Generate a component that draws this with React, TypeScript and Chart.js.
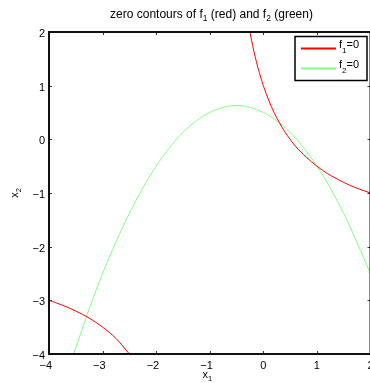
import React, { useEffect, useRef } from 'react';
import { Chart, registerables } from 'chart.js';

Chart.register(...registerables);

const xTicks = [-4, -3, -2, -1, 0, 1, 2];
const yTicks = [-4, -3, -2, -1, 0, 1, 2];

// f1 = 0 (red), upper-right branch
const redUpperX = [-0.25, -0.2, -0.15, -0.1, -0.05, 0, 0.1, 0.2, 0.3, 0.4, 0.5, 0.6, 0.8, 1.0, 1.2, 1.4, 1.6, 1.8, 2.0];
const redUpperY = [2.0, 1.75, 1.53, 1.33, 1.16, 1.0, 0.73, 0.5, 0.31, 0.14, 0.0, -0.13, -0.33, -0.5, -0.64, -0.75, -0.85, -0.93, -1.0];
// f1 = 0 (red), lower-left branch
const redLowerX = [-4, -3.75, -3.5, -3.25, -3, -2.75, -2.5];
const redLowerY = [-3, -3.09, -3.2, -3.33, -3.5, -3.71, -4.0];
// f2 = 0 (green)
const greenX = [-3.54, -3.25, -3, -2.5, -2, -1.5, -1, -0.5, 0, 0.5, 1, 1.5, 2];
const greenY = [-4, -3.16, -2.5, -1.38, -0.5, 0.13, 0.5, 0.63, 0.5, 0.13, -0.5, -1.38, -2.5];

type Part = [string, boolean];
const titleParts: Part[] = [['zero contours of f', false], ['1', true], [' (red) and f', false], ['2', true], [' (green)', false]];
const xLabelParts: Part[] = [['x', false], ['1', true]];
const yLabelParts: Part[] = [['x', false], ['2', true]];
const legendEntries: { parts: Part[]; color: string }[] = [
  { parts: [['f', false], ['1', true], ['=0', false]], color: '#ff0000' },
  { parts: [['f', false], ['2', true], ['=0', false]], color: '#80ff80' },
];

const RED = '#ff0000';
const GREEN = '#80ff80';
const FONT = '"Liberation Sans", Arial, Helvetica, sans-serif';
const MINUS = '\u2212';

const toPts = (xs: number[], ys: number[]) => xs.map((x, i) => ({ x, y: ys[i] }));

function richWidth(ctx: CanvasRenderingContext2D, parts: Part[], size: number, sub: number) {
  let w = 0;
  for (const [t, s] of parts) {
    ctx.font = `${s ? sub : size}px ${FONT}`;
    w += ctx.measureText(t).width;
  }
  return w;
}

function drawRich(ctx: CanvasRenderingContext2D, parts: Part[], x: number, y: number, size: number, sub: number, drop: number) {
  let cx = x;
  ctx.textAlign = 'left';
  ctx.textBaseline = 'alphabetic';
  for (const [t, s] of parts) {
    ctx.font = `${s ? sub : size}px ${FONT}`;
    ctx.fillText(t, cx, s ? y + drop : y);
    cx += ctx.measureText(t).width;
  }
}

const decorPlugin = {
  id: 'decor',
  afterDraw(chart: any) {
    const ctx: CanvasRenderingContext2D = chart.ctx;
    const { left, right, top, bottom } = chart.chartArea;
    const xs = chart.scales.x;
    const ys = chart.scales.y;
    ctx.save();
    // inward ticks
    ctx.strokeStyle = '#333';
    ctx.lineWidth = 1;
    ctx.beginPath();
    for (const v of xTicks) {
      const px = Math.round(xs.getPixelForValue(v)) + 0.5;
      ctx.moveTo(px, bottom);
      ctx.lineTo(px, bottom - 3);
      ctx.moveTo(px, top);
      ctx.lineTo(px, top + 3);
    }
    for (const v of yTicks) {
      const py = Math.round(ys.getPixelForValue(v)) + 0.5;
      ctx.moveTo(left, py);
      ctx.lineTo(left + 3, py);
      ctx.moveTo(right, py);
      ctx.lineTo(right - 3, py);
    }
    ctx.stroke();
    // frame
    ctx.strokeStyle = '#111';
    ctx.lineWidth = 2;
    ctx.strokeRect(left, top, right - left, bottom - top);

    // tick labels
    ctx.fillStyle = '#000';
    ctx.font = `11px ${FONT}`;
    ctx.textBaseline = 'alphabetic';
    for (const v of xTicks) {
      const px = xs.getPixelForValue(v);
      const digits = String(Math.abs(v));
      const dw = ctx.measureText(digits).width;
      ctx.textAlign = 'center';
      ctx.fillText(digits, px, bottom + 15);
      if (v < 0) {
        ctx.textAlign = 'right';
        ctx.fillText(MINUS, px - dw / 2, bottom + 15);
      }
    }
    ctx.textAlign = 'right';
    for (const v of yTicks) {
      const py = ys.getPixelForValue(v);
      ctx.fillText((v < 0 ? MINUS : '') + Math.abs(v), left - 4, py + 5);
    }

    // legend
    const bx = right - 75.5;
    const by = top + 4.5;
    const bw = 72;
    const bh = 44;
    ctx.fillStyle = '#fff';
    ctx.fillRect(bx, by, bw, bh);
    ctx.strokeStyle = '#000';
    ctx.lineWidth = 1.5;
    ctx.strokeRect(bx, by, bw, bh);
    legendEntries.forEach((e, i) => {
      const ly = by + 12 + i * 20;
      ctx.strokeStyle = e.color;
      ctx.lineWidth = 2;
      ctx.beginPath();
      ctx.moveTo(bx + 6, ly);
      ctx.lineTo(bx + 41, ly);
      ctx.stroke();
      ctx.fillStyle = '#000';
      drawRich(ctx, e.parts, bx + 44, ly - 0.5, 11, 8, 4.5);
    });

    // title
    ctx.fillStyle = '#000';
    const tw = richWidth(ctx, titleParts, 12, 8.5);
    drawRich(ctx, titleParts, 211.5 - tw / 2, 17.5, 12, 8.5, 3.5);
    // x label
    const xw = richWidth(ctx, xLabelParts, 11, 7.5);
    drawRich(ctx, xLabelParts, (left + right) / 2 - 2.5 - xw / 2, 378, 11, 7.5, 3);
    // y label (rotated)
    ctx.save();
    ctx.translate(17.5, (top + bottom) / 2);
    ctx.rotate(-Math.PI / 2);
    const yw = richWidth(ctx, yLabelParts, 11, 7.5);
    drawRich(ctx, yLabelParts, -yw / 2, 0, 11, 7.5, 3);
    ctx.restore();
    ctx.restore();
  },
};

export default function App() {
  const ref = useRef<HTMLCanvasElement | null>(null);
  useEffect(() => {
    if (!ref.current) return;
    const lineDs = (label: string, xs: number[], ys: number[], color: string) => ({
      label,
      data: toPts(xs, ys),
      showLine: true,
      borderColor: color,
      backgroundColor: color,
      borderWidth: 1,
      pointRadius: 0,
      pointHoverRadius: 0,
      cubicInterpolationMode: 'monotone' as const,
    });
    const chart = new Chart(ref.current, {
      type: 'scatter',
      data: {
        datasets: [
          lineDs('f1 upper', redUpperX, redUpperY, RED),
          lineDs('f1 lower', redLowerX, redLowerY, RED),
          lineDs('f2', greenX, greenY, GREEN),
        ],
      },
      options: {
        responsive: false,
        animation: false,
        devicePixelRatio: 1,
        layout: { padding: { top: 32, right: 9.5, left: 0, bottom: 0 } },
        plugins: { legend: { display: false }, title: { display: false }, tooltip: { enabled: false } },
        scales: {
          x: {
            type: 'linear',
            min: -4,
            max: 2,
            afterBuildTicks: (s: any) => {
              s.ticks = xTicks.map((v) => ({ value: v }));
            },
            afterFit: (s: any) => {
              s.height = 29;
            },
            ticks: { display: false },
            grid: { display: false, drawTicks: false },
            border: { display: false },
          },
          y: {
            type: 'linear',
            min: -4,
            max: 2,
            afterBuildTicks: (s: any) => {
              s.ticks = yTicks.map((v) => ({ value: v }));
            },
            afterFit: (s: any) => {
              s.width = 49;
            },
            ticks: { display: false },
            grid: { display: false, drawTicks: false },
            border: { display: false },
          },
        },
      },
      plugins: [decorPlugin],
    });
    return () => chart.destroy();
  }, []);
  return (
    <div style={{ position: 'absolute', left: 0, top: 0, width: 370, height: 383, overflow: 'hidden', background: '#fff' }}>
      <canvas ref={ref} width={380} height={383} style={{ width: 380, height: 383, display: 'block' }} />
    </div>
  );
}
